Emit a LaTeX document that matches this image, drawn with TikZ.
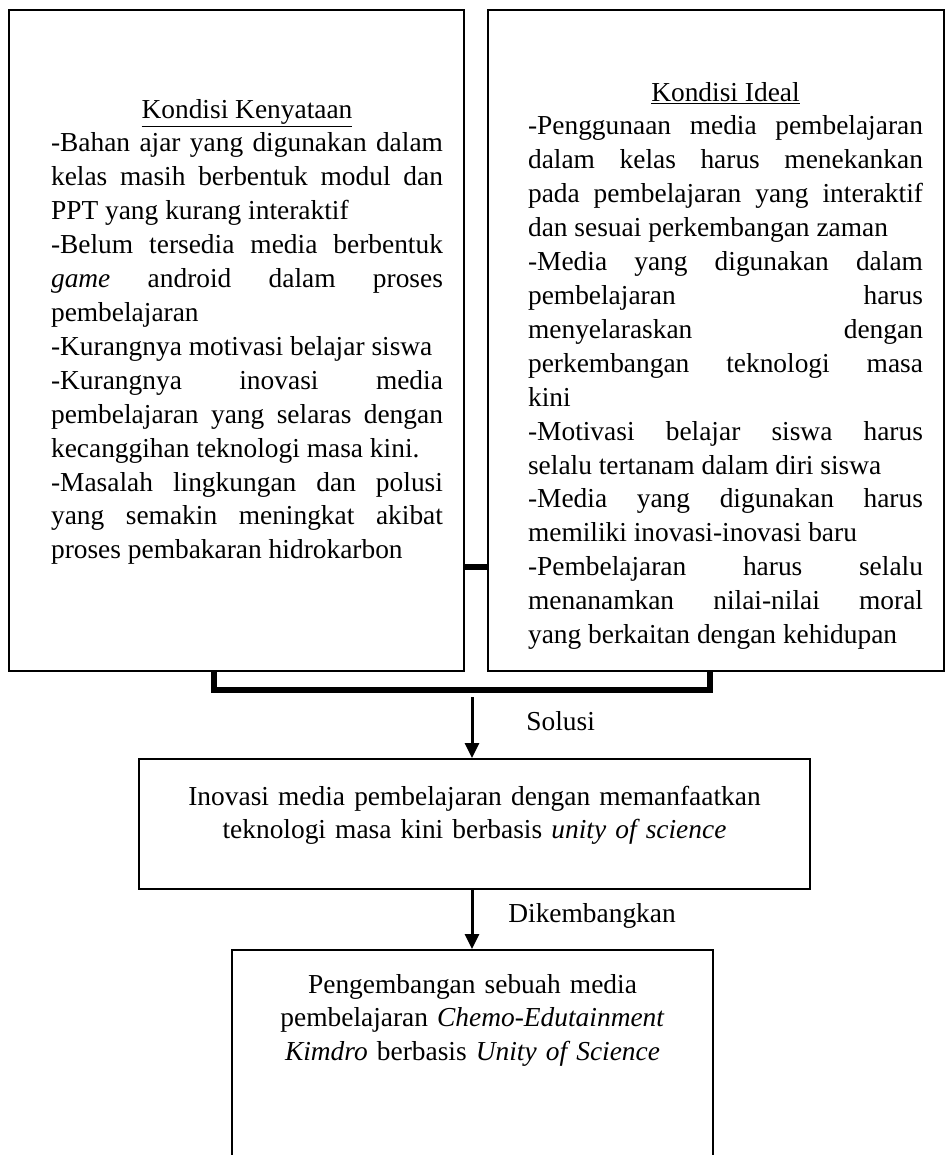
\documentclass[tikz,border=0pt]{standalone}
\usepackage{fontspec}
\setmainfont{Liberation Serif}
\usepackage{tikz}
\usetikzlibrary{arrows.meta}

\hyphenpenalty=10000
\exhyphenpenalty=10000
\tolerance=10000
\newcommand{\judul}[1]{{\parfillskip=0pt\hspace*{\fill}\underline{#1}\hspace*{\fill}\null\par}}

\begin{document}
\begin{tikzpicture}[x=0.02cm, y=-0.02cm, >={Triangle[width=0.28cm,length=0.3cm]},
    kotak/.style={draw, line width=1.2pt, inner ysep=0pt, anchor=north west, font=\fontsize{15.6}{19.3}\selectfont},
    isi/.style={kotak, align=justify, inner xsep=0.42cm},
    garistebal/.style={line width=2.9pt, line join=miter},
    panah/.style={->, line width=1.7pt},
    teks/.style={inner sep=0pt, font=\fontsize{15.6}{19.3}\selectfont}]
    % Batas gambar
    \clip (0,0) rectangle (949,1155);
    \fill[white] (0,0) rectangle (949,1155);

    % Kotak kondisi kenyataan dan kondisi ideal
    \node[isi, text width=8.26cm, text height=2.16cm, text depth=11.06cm] (kenyataan) at (8,9) {\leftskip=0.42cm
      \judul{Kondisi Kenyataan}
      -Bahan ajar yang digunakan dalam\linebreak kelas masih berbentuk modul dan\linebreak PPT yang kurang interaktif\par
      -Belum tersedia media berbentuk\linebreak \textit{game} android dalam proses\linebreak pembelajaran\par
      -Kurangnya motivasi belajar siswa\par
      -Kurangnya inovasi media\linebreak pembelajaran yang selaras dengan\linebreak kecanggihan teknologi masa kini.\par
      -Masalah lingkungan dan polusi\linebreak yang semakin meningkat akibat\linebreak proses pembakaran hidrokarbon\par};
    \node[isi, text width=8.28cm, text height=1.82cm, text depth=11.4cm] (ideal) at (487,9) {\leftskip=0.38cm
      \judul{Kondisi Ideal}
      -Penggunaan media pembelajaran\linebreak dalam kelas harus menekankan\linebreak pada pembelajaran yang interaktif\linebreak dan sesuai perkembangan zaman\par
      -Media yang digunakan dalam\linebreak pembelajaran harus\linebreak menyelaraskan dengan\linebreak perkembangan teknologi masa\linebreak kini\par
      -Motivasi belajar siswa harus\linebreak selalu tertanam dalam diri siswa\par
      -Media yang digunakan harus\linebreak memiliki inovasi-inovasi baru\par
      -Pembelajaran harus selalu\linebreak menanamkan nilai-nilai moral\linebreak yang berkaitan dengan kehidupan\par};

    % Garis penghubung
    \coordinate (sambung) at (475,567);
    \draw[garistebal] (kenyataan.east |- sambung) -- (ideal.west |- sambung);
    \coordinate (kurungkiri) at (214,690);
    \coordinate (kurungkanan) at (710,690);
    \draw[garistebal] (kenyataan.south -| kurungkiri) -- (kurungkiri) -- (kurungkanan) -- (ideal.south -| kurungkanan);

    % Kotak solusi dan pengembangan
    \node[kotak, inner xsep=0pt, text width=13.42cm, align=center, text height=0.92cm, text depth=1.68cm] (inovasi) at (138,758)
      {Inovasi media pembelajaran dengan memanfaatkan\\ teknologi masa kini berbasis \textit{unity of science}};
    \node[kotak, inner xsep=0pt, text width=9.62cm, align=center, text height=0.86cm, text depth=4.2cm] (pengembangan) at (231,949)
      {Pengembangan sebuah media\\ pembelajaran \textit{Chemo-Edutainment}\\ \textit{Kimdro} berbasis \textit{Unity of Science}};

    % Panah
    \coordinate (awalpanah) at (472,697);
    \draw[panah] (awalpanah) -- (awalpanah |- inovasi.north);
    \draw[panah] (inovasi.south -| awalpanah) -- (awalpanah |- pengembangan.north);
    \node[teks, anchor=base west] (solusi) at (526,730) {Solusi};
    \node[teks, anchor=base west] (dikembangkan) at (508,922) {Dikembangkan};
\end{tikzpicture}
\end{document}
